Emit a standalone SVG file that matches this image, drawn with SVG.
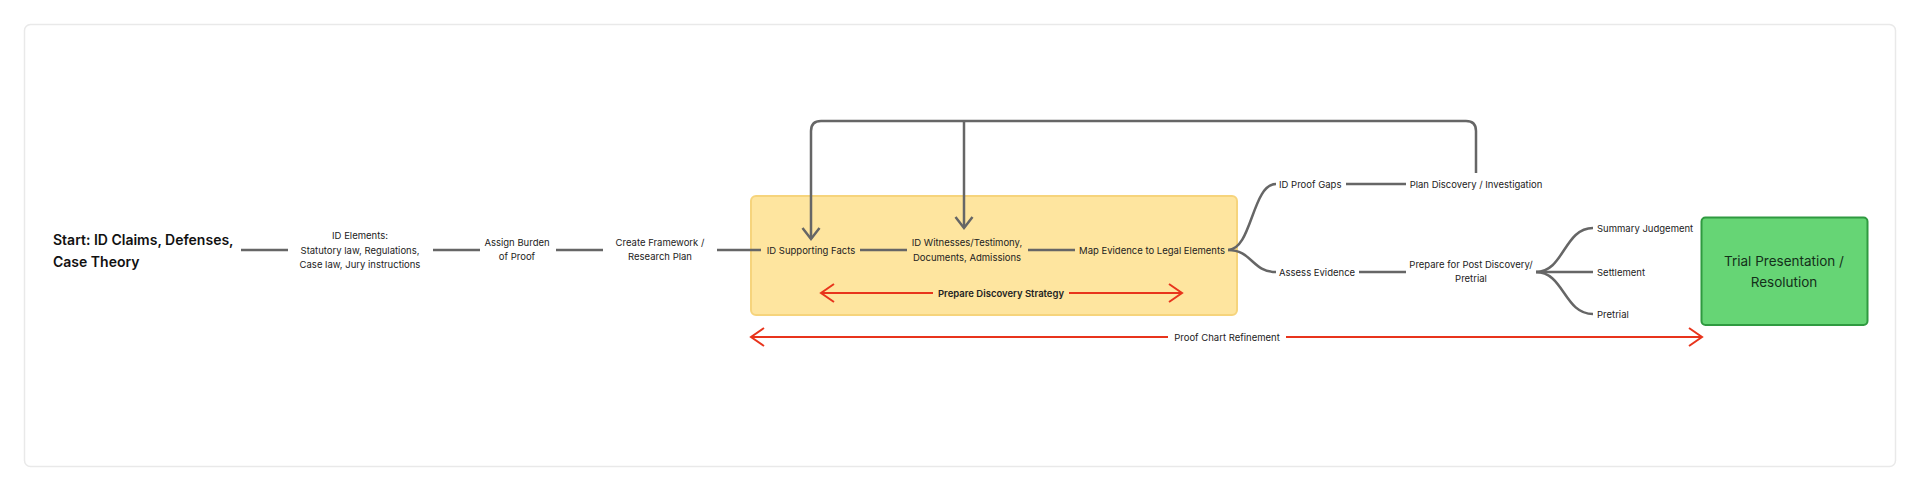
<svg xmlns="http://www.w3.org/2000/svg" width="1920" height="492" viewBox="0 0 1920 492">
<style>
.t{font-family:Inter,"Noto Sans","Liberation Sans",sans-serif;font-size:9.5px;fill:#222;text-anchor:middle}
.tl{text-anchor:start}
.b{font-weight:600}
.title{font-family:Inter,"Noto Sans","Liberation Sans",sans-serif;font-size:14px;font-weight:600;fill:#111}
.c{fill:none;stroke:#666;stroke-width:2.5;stroke-linecap:butt}
.r{fill:none;stroke:#e8341c;stroke-width:2}
.g{font-size:13.5px;fill:#14301a}
</style>
<defs>
<marker id="ga" markerUnits="userSpaceOnUse" orient="auto" markerWidth="16" markerHeight="20" refX="12" refY="9" overflow="visible">
<path d="M1,0.5 L12,9 L1,17.5" fill="none" stroke="#666" stroke-width="2.5"/>
</marker>
<marker id="ra" markerUnits="userSpaceOnUse" orient="auto-start-reverse" markerWidth="16" markerHeight="20" refX="14" refY="9" overflow="visible">
<path d="M1,0 L14,9 L1,18" fill="none" stroke="#e8341c" stroke-width="2"/>
</marker>
</defs>
<rect width="1920" height="492" fill="#ffffff"/>
<rect x="24.5" y="24.5" width="1871" height="442" rx="6" fill="#ffffff" stroke="#e9e9e9" stroke-width="1.5"/>

<g id="discovery-box">
<rect x="751" y="196" width="486" height="119" rx="5" fill="#fee59f" stroke="#f6d47c" stroke-width="2"/>
</g>

<g id="connectors">
<line class="c" x1="241" y1="250" x2="288" y2="250"/>
<line class="c" x1="433" y1="250" x2="480" y2="250"/>
<line class="c" x1="556" y1="250" x2="603" y2="250"/>
<line class="c" x1="717" y1="250" x2="761" y2="250"/>
<line class="c" x1="860" y1="250" x2="907" y2="250"/>
<line class="c" x1="1028" y1="250" x2="1075" y2="250"/>
<path class="c" d="M1228 250 C1252 250 1252 184 1276 184"/>
<path class="c" d="M1228 250 C1252 250 1252 272 1276 272"/>
<line class="c" x1="1346" y1="184" x2="1406" y2="184"/>
<line class="c" x1="1359" y1="272" x2="1406" y2="272"/>
<path class="c" d="M1536 272 C1564 272 1564 228 1593 228"/>
<line class="c" x1="1536" y1="272" x2="1593" y2="272"/>
<path class="c" d="M1536 272 C1564 272 1564 314 1593 314"/>
<path class="c" d="M1476 173 V131 Q1476 121 1466 121 H821 Q811 121 811 131 V239" marker-end="url(#ga)"/>
<path class="c" d="M964 121 V228" marker-end="url(#ga)"/>
<line class="r" x1="821" y1="293" x2="933" y2="293" marker-start="url(#ra)"/>
<line class="r" x1="1069" y1="293" x2="1182" y2="293" marker-end="url(#ra)"/>
<line class="r" x1="751" y1="337" x2="1168" y2="337" marker-start="url(#ra)"/>
<line class="r" x1="1286" y1="337" x2="1702" y2="337" marker-end="url(#ra)"/>
</g>

<g id="start">
<text class="title" x="53" y="245">Start: ID Claims, Defenses,</text>
<text class="title" x="53" y="267">Case Theory</text>
</g>
<g id="id-elements">
<text class="t" x="360" y="238.5">ID Elements:</text>
<text class="t" x="360" y="253.5">Statutory law, Regulations,</text>
<text class="t" x="360" y="268">Case law, Jury instructions</text>
</g>
<g id="assign-burden">
<text class="t" x="517" y="246">Assign Burden</text>
<text class="t" x="517" y="260">of Proof</text>
</g>
<g id="create-framework">
<text class="t" x="660" y="246">Create Framework /</text>
<text class="t" x="660" y="260">Research Plan</text>
</g>
<g id="id-supporting-facts">
<text class="t" x="811" y="253.5">ID Supporting Facts</text>
</g>
<g id="id-witnesses">
<text class="t" x="967" y="245.5">ID Witnesses/Testimony,</text>
<text class="t" x="967" y="260.5">Documents, Admissions</text>
</g>
<g id="map-evidence">
<text class="t" x="1152" y="253.5">Map Evidence to Legal Elements</text>
</g>
<g id="prepare-discovery-strategy">
<text class="t b" x="1001" y="296.5">Prepare Discovery Strategy</text>
</g>
<g id="id-proof-gaps">
<text class="t tl" x="1279" y="187.5">ID Proof Gaps</text>
</g>
<g id="plan-discovery">
<text class="t" x="1476" y="187.5">Plan Discovery / Investigation</text>
</g>
<g id="assess-evidence">
<text class="t tl" x="1279" y="275.5">Assess Evidence</text>
</g>
<g id="prepare-post-discovery">
<text class="t" x="1471" y="267.5">Prepare for Post Discovery/</text>
<text class="t" x="1471" y="281.5">Pretrial</text>
</g>
<g id="summary-judgement">
<text class="t tl" x="1597" y="231.5">Summary Judgement</text>
</g>
<g id="settlement">
<text class="t tl" x="1597" y="275.5">Settlement</text>
</g>
<g id="pretrial">
<text class="t tl" x="1597" y="317.5">Pretrial</text>
</g>
<g id="proof-chart-refinement">
<text class="t" x="1227" y="340.5">Proof Chart Refinement</text>
</g>
<g id="trial-presentation">
<rect x="1701.5" y="217.5" width="166" height="107.5" rx="4" fill="#66d575" stroke="#2f9a40" stroke-width="2"/>
<text class="t g" x="1784" y="266">Trial Presentation /</text>
<text class="t g" x="1784" y="287">Resolution</text>
</g>
</svg>
